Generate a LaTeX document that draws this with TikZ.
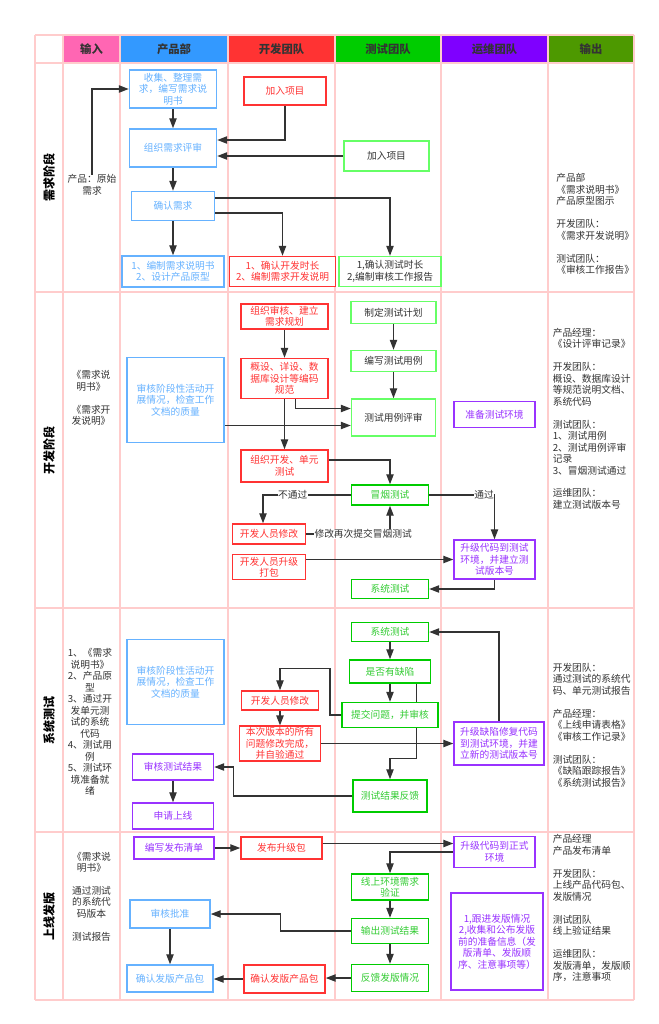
\documentclass[tikz,border=0pt]{standalone}
\usepackage{fontspec}
\setmainfont{Noto Sans CJK SC}
\usetikzlibrary{arrows.meta}
\usetikzlibrary{backgrounds}
\usetikzlibrary{calc}
\definecolor{gridpink}{HTML}{FFCCCC}
\definecolor{hdrin}{HTML}{FF66B3}
\definecolor{hdrprod}{HTML}{3399FF}
\definecolor{hdrdev}{HTML}{FF3333}
\definecolor{hdrtest}{HTML}{00CC00}
\definecolor{hdrops}{HTML}{7F00FF}
\definecolor{hdrout}{HTML}{4D9900}
\definecolor{prodblue}{HTML}{66B2FF}
\definecolor{devred}{HTML}{FF3333}
\definecolor{testlight}{HTML}{66FF66}
\definecolor{testgreen}{HTML}{00CC00}
\definecolor{testtext}{HTML}{33CC33}
\definecolor{opspurple}{HTML}{9933FF}
\definecolor{textgray}{HTML}{333333}
\newlength{\px}
\setlength{\px}{0.75pt}
\pgfdeclarelayer{grid}
\pgfsetlayers{grid,background,main}

\tikzset{
	sz/.style 2 args={minimum width=#1\px, minimum height=#2\px},
	box/.style={draw, line width=1.1pt, fill=white, align=center, inner sep=1pt,
		font=\fontsize{7.3}{8.6}\selectfont},
	prodbox/.style={box, draw=prodblue, text=prodblue},
	devbox/.style={box, draw=devred, text=devred},
	testlbox/.style={box, draw=testlight, text=textgray},
	testgbox/.style={box, draw=testgreen, text=testtext},
	opsbox/.style={box, draw=opspurple, text=opspurple},
	note/.style={text=textgray, align=center, inner sep=0pt,
		font=\fontsize{7.3}{8.6}\selectfont},
	outnote/.style={note, align=left, anchor=north west},
	lbl/.style={text=textgray, fill=white, inner sep=0.5pt,
		font=\fontsize{7.3}{8.6}\selectfont},
	hdr/.style={text=textgray, font=\fontsize{8.5}{10}\selectfont\bfseries},
	phase/.style={rotate=90, text=black, font=\fontsize{9}{11}\selectfont\bfseries},
	gridline/.style={draw=gridpink, line width=1pt},
	flow/.style={draw=textgray, line width=1pt, -{Triangle[length=7.5pt,width=5.5pt]}}
}

\begin{document}
\begin{tikzpicture}[x=0.75pt, y=-0.75pt]
	\useasboundingbox (0,0) rectangle (658,1024);
	
	% lanes and phases
	\begin{pgfonlayer}{grid}
		\fill[white] (0,0) rectangle (658,1024);
		\foreach \xa/\xb/\col/\txt [count=\i] in {63/120/hdrin/输入, 120/228/hdrprod/产品部,
			228/335/hdrdev/开发团队, 335/441/hdrtest/测试团队, 441/548/hdrops/运维团队,
			548/634/hdrout/输出}{
			\fill[\col] (\xa,35) rectangle (\xb,63);
			\node[hdr] (hdr\i) at ({(\xa+\xb)/2},49) {\txt};
		}
		\foreach \ya/\yb/\txt [count=\i] in {63/292/需求阶段, 292/608/开发阶段,
			608/832/系统测试, 832/1000/上线发版}{
			\node[phase] (phase\i) at (49,{(\ya+\yb)/2}) {\txt};
		}
		\foreach \x in {35,63,120,228,335,441,548,634}
			\draw[gridline] (\x,35) -- (\x,1000);
		\foreach \y in {35,63,292,608,832,1000}
			\draw[gridline] (35,\y) -- (634,\y);
	\end{pgfonlayer}
	
	% 需求阶段
	\node[note] (in1) at (92,185) {产品：原始\\需求};
	\node[prodbox, sz={87}{38}] (collect) at (173,89) {收集、整理需\\求，编写需求说\\明书};
	\node[prodbox, sz={87}{38}] (review) at (173,148) {组织需求评审};
	\node[prodbox, sz={83}{29}] (confirm) at (173,206) {确认需求};
	\node[prodbox, sz={102}{31}] (prodrep) at (173,271.5) {1、编制需求说明书\\2、设计产品原型};
	\node[devbox, sz={82}{28}] (devjoin) at (285,91) {加入项目};
	\node[devbox, sz={106}{30}] (devrep) at (282.5,271.5) {1、确认开发时长\\2、编制需求开发说明};
	\node[testlbox, sz={85}{30}] (testjoin) at (386.5,156) {加入项目};
	\node[testlbox, sz={102}{30}] (testrep) at (390,271.5) {1,确认测试时长\\2,编制审核工作报告};
	\node[outnote] (out1) at (556,173.5) {产品部\\《需求说明书》\\ 产品原型图示\\[8.6pt]开发团队：\\《需求开发说明》\\[8.6pt]测试团队：\\《审核工作报告》};
	
	% 开发阶段
	\node[note] (in2) at (91,398) {《需求说\\明书》\\[8.6pt]《需求开\\发说明》};
	\node[prodbox, sz={97}{85}] (audit2) at (175.5,400) {审核阶段性活动开\\展情况，检查工作\\文档的质量};
	\node[devbox, sz={87}{25}] (plan) at (284.5,316.5) {组织审核、建立\\需求规划};
	\node[devbox, sz={87}{40}] (spec) at (284.5,378.5) {概设、详设、数\\据库设计等编码\\规范};
	\node[devbox, sz={87}{32}] (devunit) at (284.5,466) {组织开发、单元\\测试};
	\node[devbox, sz={73}{20}] (fix2) at (269,534) {开发人员修改};
	\node[devbox, sz={73}{25}] (pack) at (269,567) {开发人员升级\\打包};
	\node[testlbox, sz={85}{22}] (testplan) at (393.5,312.5) {制定测试计划};
	\node[testlbox, sz={85}{21}] (writecase) at (393.5,361) {编写测试用例};
	\node[testlbox, sz={84}{37}] (tcr) at (393.5,417.5) {测试用例评审};
	\node[testgbox, sz={77}{20}] (smoke) at (390,495) {冒烟测试};
	\node[testgbox, sz={77}{19}] (sys2) at (390,589) {系统测试};
	\node[opsbox, sz={81}{26}] (env) at (494.5,414.5) {准备测试环境};
	\node[opsbox, sz={81}{39}] (upg) at (494.5,559.5) {升级代码到测试\\环境，并建立测\\试版本号};
	\node[outnote] (out2) at (552.5,328) {产品经理：\\《设计评审记录》\\[8.6pt]开发团队：\\概设、数据库设计\\等规范说明文档、\\系统代码\\[8.6pt]测试团队：\\1、测试用例\\2、测试用例评审\\记录\\3、冒烟测试通过\\[8.6pt]运维团队：\\建立测试版本号};
	
	% 系统测试
	\node[note] (in3) at (90,722) {1、《需求\\说明书》\\2、产品原\\型\\3、通过开\\发单元测\\试的系统\\代码\\4、测试用\\例\\5、测试环\\境准备就\\绪};
	\node[prodbox, sz={97}{85}] (audit3) at (175.5,682) {审核阶段性活动开\\展情况，检查工作\\文档的质量};
	\node[opsbox, sz={81}{26}] (auditres) at (173,767) {审核测试结果};
	\node[opsbox, sz={81}{26}] (apply) at (173,816) {申请上线};
	\node[devbox, sz={77}{19}] (fix3) at (280,700.5) {开发人员修改};
	\node[devbox, sz={81}{32}] (allfix) at (280,743.5) {本次版本的所有\\问题修改完成，\\并自验通过};
	\node[testgbox, sz={77}{19}] (sys3) at (390,632) {系统测试};
	\node[testgbox, sz={81}{23}] (defect) at (390,671.5) {是否有缺陷};
	\node[testgbox, sz={96}{25}] (submit) at (390,715) {提交问题，并审核};
	\node[testgbox, sz={74}{32}] (result) at (390,796) {测试结果反馈};
	\node[opsbox, sz={90}{43}] (defup) at (499,743.5) {升级缺陷修复代码\\到测试环境，并建\\立新的测试版本号};
	\node[outnote] (out3) at (552.5,663) {开发团队：\\通过测试的系统代\\码、单元测试报告\\[8.6pt]产品经理：\\《上线申请表格》\\《审核工作记录》\\[8.6pt]测试团队：\\《缺陷跟踪报告》\\《系统测试报告》};
	
	% 上线发版
	\node[note] (in4) at (91.5,896.5) {《需求说\\明书》\\[8.6pt]通过测试\\的系统代\\码版本\\[8.6pt]测试报告};
	\node[opsbox, sz={80}{22}] (wlist) at (174,848) {编写发布清单};
	\node[prodbox, sz={80}{28}] (approve) at (170,914) {审核批准};
	\node[prodbox, sz={86}{27}] (confirmP) at (170,978.5) {确认发版产品包};
	\node[devbox, sz={81}{22}] (pub) at (281.5,848) {发布升级包};
	\node[devbox, sz={81}{28}] (confirmD) at (284.5,979) {确认发版产品包};
	\node[testgbox, sz={77}{26}] (online) at (390,887) {线上环境需求\\验证};
	\node[testgbox, sz={77}{25}] (outres) at (390,931) {输出测试结果};
	\node[testgbox, sz={77}{27}] (feedback) at (390,978) {反馈发版情况};
	\node[opsbox, sz={81}{31}] (formal) at (494.5,852) {升级代码到正式\\环境};
	\node[opsbox, sz={92}{97}] (track) at (497,941.5) {1,跟进发版情况\\2,收集和公布发版\\前的准备信息（发\\版清单、发版顺\\序、注意事项等）};
	\node[outnote] (out4) at (552.5,834.5) {产品经理\\产品发布清单\\[8.6pt]开发团队：\\上线产品代码包、\\发版情况\\[8.6pt]测试团队\\线上验证结果\\[8.6pt]运维团队：\\发版清单，发版顺\\序，注意事项};
	
	\coordinate (tcrin) at ($(tcr.west)+(0,8)$);
	\coordinate (dbend) at ($(result.north)+(0,-21)$);
	\coordinate (sbend) at ($(fix3.north)+(0,-21.5)$);
	\coordinate (formalin) at ($(formal.west)+(0,-8.5)$);
	
	\begin{scope}[on background layer]
		% 需求阶段
		\draw[flow] (in1.north) |- (collect.west);
		\draw[flow] (collect) -- (review);
		\draw[flow] (devjoin.south) |- ($(review.east)+(0,-8)$);
		\draw[flow] (testjoin.west) -- (testjoin.west -| review.east);
		\draw[flow] (review) -- (confirm);
		\draw[flow] ($(confirm.east)+(0,-8)$) -| (testrep.north);
		\draw[flow] ($(confirm.east)+(0,7)$) -| (devrep.north);
		\draw[flow] (confirm) -- (prodrep);
		
		% 开发阶段
		\draw[flow] (plan) -- (spec);
		\draw[flow] ($(spec.south)+(11,0)$) |- ($(tcr.west)+(0,-9)$);
		\draw[flow] (audit2.east |- tcrin) -- (tcrin);
		\draw[flow] (spec) -- (devunit);
		\draw[flow] (testplan) -- (writecase);
		\draw[flow] (writecase) -- (tcr);
		\draw[flow] ($(devunit.east)+(0,-6)$) -| (smoke.north);
		\draw[flow] (smoke.west) -| node[lbl, pos=0.33] {不通过} ($(fix2.north)+(-6,0)$);
		\draw[flow] (smoke.east) -| node[lbl, pos=0.42] {通过} (upg.north);
		\draw[flow] (fix2.east) -| node[lbl, pos=0.34] {修改再次提交冒烟测试} (smoke.south);
		\draw[flow] (pack.east |- upg.west) -- (upg.west);
		\draw[flow] (upg.south) |- (sys2.east);
		
		% 系统测试
		\draw[flow] (sys3) -- (defect);
		\draw[flow] (defect) -- (submit);
		\draw[flow] ($(defect.south)+(26.5,0)$) |- (dbend) -- (result.north);
		\draw[flow] (submit.west) -| ($(sbend)+(50,0)$) -- (sbend) -- (fix3.north);
		\draw[flow] (fix3) -- (allfix);
		\draw[flow] (allfix.east) -- (allfix.east -| defup.west);
		\draw[flow] (defup.north) |- (sys3.east);
		\draw[flow] (result.west) -| ($(auditres.east)+(19.5,0)$) -- (auditres.east);
		\draw[flow] (auditres) -- (apply);
		
		% 上线发版
		\draw[flow] (wlist) -- (pub);
		\draw[flow] (pub.east |- formalin) -- (formalin);
		\draw[flow] (formal.west) -| (online.north);
		\draw[flow] (online) -- (outres);
		\draw[flow] (outres) -- (feedback);
		\draw[flow] (outres.west) -| ($(approve.east)+(70,0)$) -- (approve.east);
		\draw[flow] (approve) -- (confirmP);
		\draw[flow] (feedback.west) -- (feedback.west -| confirmD.east);
		\draw[flow] (confirmD.west) -- (confirmD.west -| confirmP.east);
	\end{scope}
\end{tikzpicture}
\end{document}
